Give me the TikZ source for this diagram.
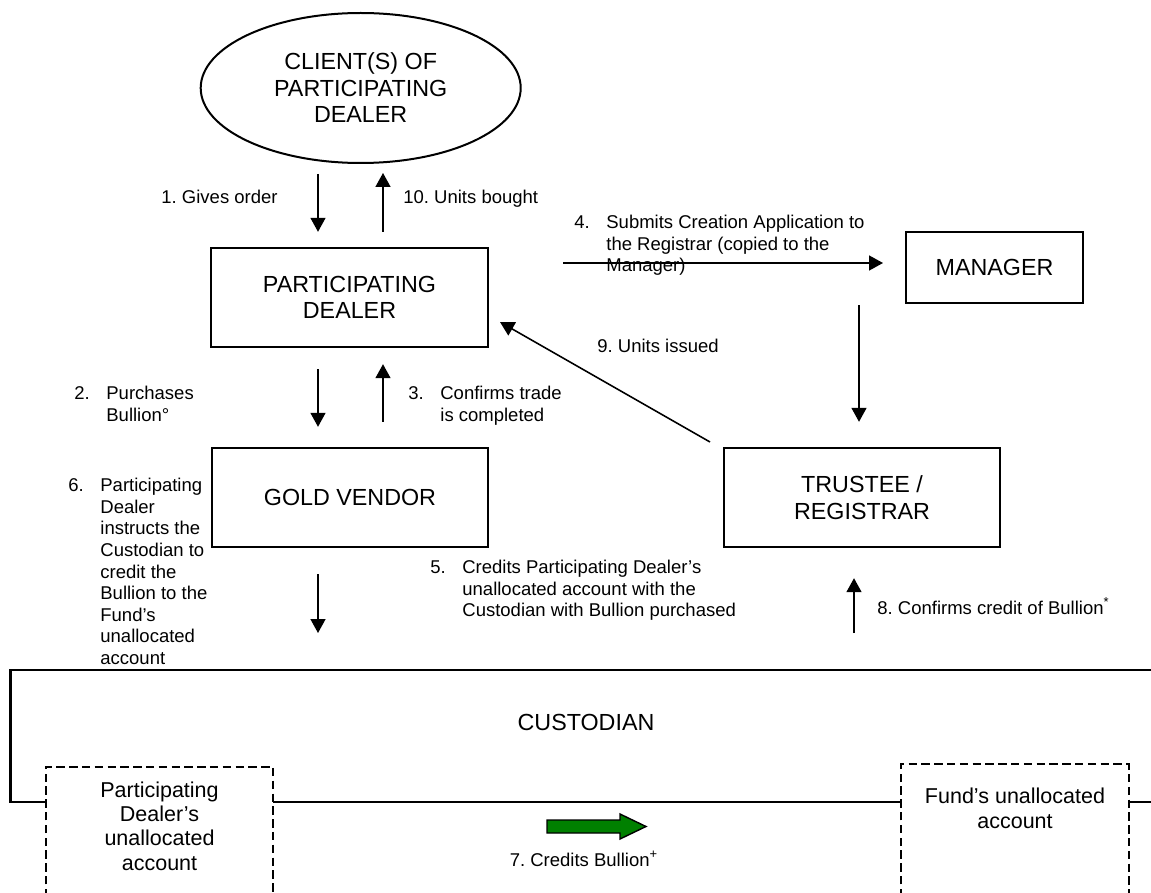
\documentclass[tikz,border=0pt]{standalone}
\usepackage{fontspec}
\setmainfont{Liberation Sans}
\usetikzlibrary{arrows.meta,shapes.geometric}
\definecolor{garrow}{RGB}{0,128,0}
\newcommand\fbig{\fontsize{11.65}{13.25}\selectfont}
\newcommand\fsml{\fontsize{9.25}{10.8}\selectfont}
\newcommand\fmid{\fontsize{10.75}{12.2}\selectfont}
\newcommand\numlab[2]{\makebox[16pt][l]{#1}\begin{tabular}[t]{@{}l@{}}#2\end{tabular}}
\frenchspacing
\begin{document}
\begin{tikzpicture}[x=0.5pt,y=-0.5pt,
  box/.style={draw,line width=1.2pt,rectangle,inner sep=0,font=\fbig,align=center},
  arr/.style={line width=0.8pt,-{Triangle[length=7pt,width=7.5pt]}},
  lab/.style={font=\fsml,inner sep=0},
  dbox/.style={line width=0.9pt,dash pattern=on 4.2pt off 2.2pt},
  custline/.style={line width=1.3pt}]
\useasboundingbox (0,0) rectangle (1151,893);
\clip (0,0) rectangle (1151,893);

% main nodes
\node[ellipse,draw,line width=1pt,minimum width=160pt,minimum height=75pt,inner sep=0,font=\fbig,align=center] (client) at (360.7,88) {CLIENT(S) OF\\PARTICIPATING\\DEALER};
\node[box,minimum width=138.5pt,minimum height=49.5pt] (pd) at (349.5,297.5) {PARTICIPATING\\DEALER};
\node[box,minimum width=138pt,minimum height=49.5pt] (gv) at (350,497.5) {GOLD VENDOR};
\node[box,minimum width=138pt,minimum height=49.5pt] (tr) at (862,497.5) {TRUSTEE /\\REGISTRAR};
\node[box,minimum width=88.5pt,minimum height=35.5pt] (mgr) at (994.5,267.5) {MANAGER};

% custodian
\draw[custline] (1160,670) -- (10.7,670) -- (10.7,802) -- (45.7,802);
\draw[custline] (273,802) -- (901,802);
\draw[custline] (1129,802) -- (1160,802);
\node[font=\fbig,inner sep=0] (cust) at (586,722) {CUSTODIAN};
\coordinate (custtop) at (586,670);

% accounts
\draw[dbox] (45.7,910) -- (45.7,767) -- (273,767) -- (273,910);
\draw[dbox] (901,910) -- (901,764) -- (1129,764) -- (1129,910);
\node[font=\fmid,align=center,inner sep=0] (pdacc) at (159.5,826) {Participating\\Dealer’s\\unallocated\\account};
\node[font=\fmid,align=center,inner sep=0] (fundacc) at (1015,808.5) {Fund’s unallocated\\account};

% helper x positions
\coordinate (xa) at (318,0);
\coordinate (xb) at (383,0);
\coordinate (xc) at (854,0);
\coordinate (xd) at (859,0);
\coordinate (c4a) at (563,263);
\coordinate (c4b) at (883,263);
\coordinate (c9a) at (710,442);
\coordinate (c9b) at (500,322);

% labels
\node[lab,anchor=base east] (l1) at (278,203.6) {1. Gives order};
\node[lab,anchor=base west] (l10) at (403,203.6) {10. Units bought};
\node[lab,anchor=base west] (l2) at (74,399.6) {\numlab{2.}{Purchases\\Bullion°}};
\node[lab,anchor=base west] (l3) at (408,399.6) {\numlab{3.}{Confirms trade\\is completed}};
\node[lab,anchor=base west] (l4) at (574,228.6) {\numlab{4.}{Submits Creation Application to\\the Registrar (copied to the\\Manager)}};
\node[lab,anchor=base west] (l9) at (597,352.6) {9. Units issued};
\node[lab,anchor=base west] (l5) at (430,573.6) {\numlab{5.}{Credits Participating Dealer’s\\unallocated account with the\\Custodian with Bullion purchased}};
\node[lab,anchor=base west] (l6) at (68,491.6) {\numlab{6.}{Participating\\Dealer\\instructs the\\Custodian to\\credit the\\Bullion to the\\Fund’s\\unallocated\\account}};
\node[lab,anchor=base west] (l8) at (877,614.6) {8. Confirms credit of Bullion\textsuperscript{*}};
\node[lab,anchor=base] (l7) at (584,866.6) {7. Credits Bullion\textsuperscript{+}};

% arrows
\draw[arr,shorten <=5pt,shorten >=7.5pt] (xa |- client.south) -- (xa |- pd.north);
\draw[arr,shorten <=7.5pt,shorten >=4.5pt] (xb |- pd.north) -- (xb |- client.south);
\draw[arr,shorten <=10.5pt,shorten >=10pt] (xa |- pd.south) -- (xa |- gv.north);
\draw[arr,shorten <=12.5pt,shorten >=8pt] (xb |- gv.north) -- (xb |- pd.south);
\draw[arr,shorten <=13pt,shorten >=18.5pt] (xa |- gv.south) -- (xa |- custtop);
\draw[arr,shorten <=18.5pt,shorten >=15pt] (xc |- custtop) -- (xc |- tr.south);
\draw[arr,shorten <=0.5pt,shorten >=12.5pt] (xd |- mgr.south) -- (xd |- tr.north);
\draw[arr] (c4a) -- (c4b);
\draw[arr] (c9a) -- (c9b);

% green arrow
\draw[fill=garrow,line width=0.7pt] (547,820) -- (620,820) -- (620,814) -- (646,826.5) -- (620,839) -- (620,833) -- (547,833) -- cycle;
\end{tikzpicture}
\end{document}
